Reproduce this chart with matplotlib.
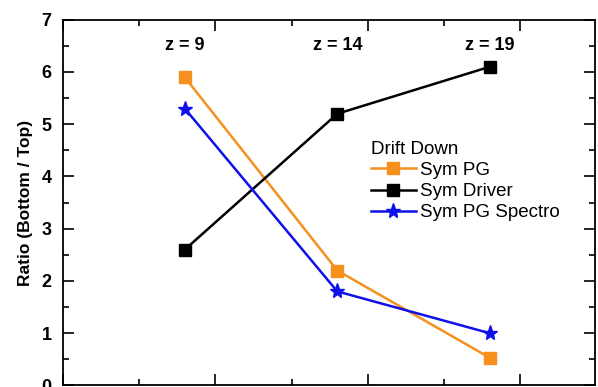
import matplotlib
matplotlib.use("Agg")
import matplotlib.pyplot as plt
from matplotlib.ticker import MultipleLocator, NullFormatter

plt.rcParams['font.family'] = ['Liberation Sans', 'DejaVu Sans']

z = [9, 14, 19]
z_labels = ["z = 9", "z = 14", "z = 19"]
sym_pg = [5.9, 2.2, 0.53]
sym_driver = [2.6, 5.2, 6.1]
sym_pg_spectro = [5.3, 1.8, 1.0]

fig = plt.figure(figsize=(5.98, 3.87), dpi=100)
ax = fig.add_axes([0.105, 0.004, 0.89, 0.945])

ax.plot(z, sym_pg, color='#F7901E', lw=1.8, marker='s', ms=8, mec='#F7901E', label='Sym PG')
ax.plot(z, sym_driver, color='black', lw=1.8, marker='s', ms=8, label='Sym Driver')
ax.plot(z, sym_pg_spectro, color='#1010E8', lw=1.8, marker='*', ms=11, label='Sym PG Spectro')

ax.set_xlim(5, 22.45)
ax.set_ylim(0, 7)
ax.xaxis.set_major_locator(MultipleLocator(5))
ax.xaxis.set_minor_locator(MultipleLocator(2.5))
ax.yaxis.set_major_locator(MultipleLocator(1))
ax.yaxis.set_minor_locator(MultipleLocator(0.5))
ax.xaxis.set_major_formatter(NullFormatter())
ax.tick_params(which='both', direction='in', top=True, right=True, width=1.2)
ax.tick_params(which='major', length=8)
ax.tick_params(which='minor', length=4)
ax.tick_params(axis='y', labelsize=13, pad=8)
for lbl in ax.get_yticklabels():
    lbl.set_fontweight('bold')
for s in ax.spines.values():
    s.set_linewidth(1.3)

ax.set_ylabel('Ratio (Bottom / Top)', fontsize=12.5, fontweight='bold', labelpad=6)

for zz, t in zip(z, z_labels):
    ax.text(zz, 6.51, t, ha='center', va='center', fontsize=13, fontweight='bold')

leg = ax.legend(loc='upper left', bbox_to_anchor=(0.565, 0.69), frameon=False,
                title='Drift Down', fontsize=13.5, title_fontsize=13.5,
                handlelength=2.4, handletextpad=0.2, labelspacing=0.22,
                borderaxespad=0)
leg._legend_box.align = 'left'

fig.savefig('out.png', dpi=100)
